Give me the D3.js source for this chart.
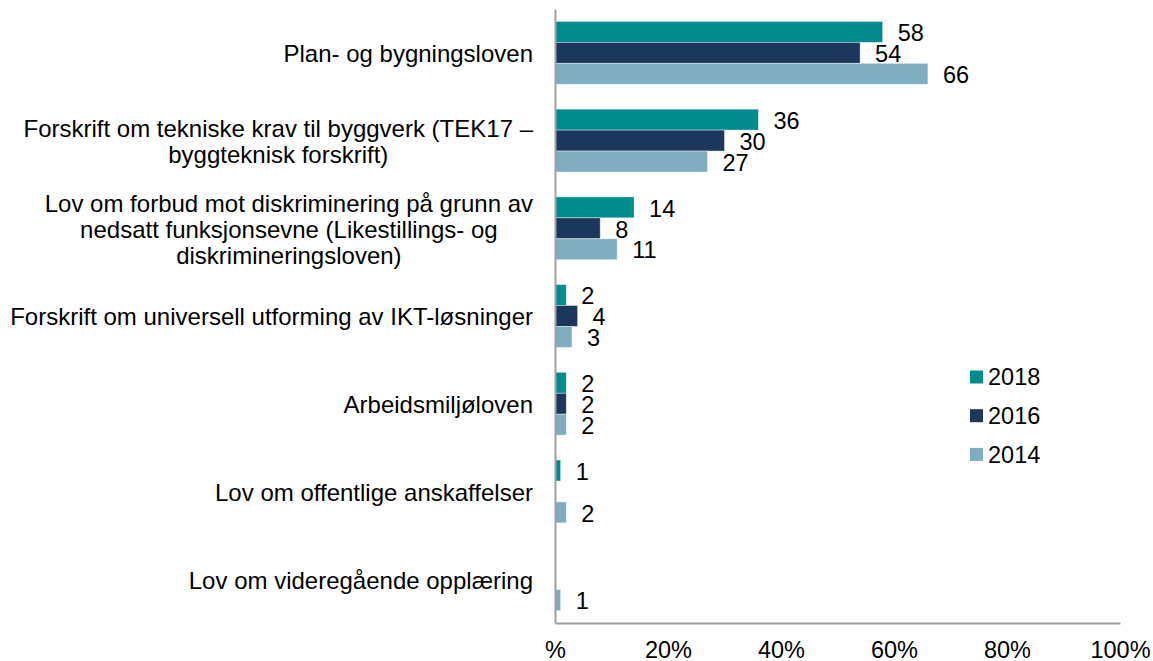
<!DOCTYPE html>
<html>
<head>
<meta charset="utf-8">
<script src="https://cdn.jsdelivr.net/npm/d3@7"></script>
<style>
  html, body { margin: 0; padding: 0; background: #fff; }
  svg { display: block; font-family: "Liberation Sans", Arial, sans-serif; }
</style>
</head>
<body>
<svg id="chart" width="1153" height="661"></svg>
<script>
// ---- data ----
const categories = [
  "Plan- og bygningsloven",
  "Forskrift om tekniske krav til byggverk (TEK17 – byggteknisk forskrift)",
  "Lov om forbud mot diskriminering på grunn av nedsatt funksjonsevne (Likestillings- og diskrimineringsloven)",
  "Forskrift om universell utforming av IKT-løsninger",
  "Arbeidsmiljøloven",
  "Lov om offentlige anskaffelser",
  "Lov om videregående opplæring"
];
const categoryLines = [
  ["Plan- og bygningsloven"],
  ["Forskrift om tekniske krav til byggverk (TEK17 –", "byggteknisk forskrift)"],
  ["Lov om forbud mot diskriminering på grunn av", "nedsatt funksjonsevne (Likestillings- og", "diskrimineringsloven)"],
  ["Forskrift om universell utforming av IKT-løsninger"],
  ["Arbeidsmiljøloven"],
  ["Lov om offentlige anskaffelser"],
  ["Lov om videregående opplæring"]
];
const seriesNames = ["2018", "2016", "2014"];
const values2018 = [58, 36, 14, 2, 2, 1, null];
const values2016 = [54, 30, 8, 4, 2, null, null];
const values2014 = [66, 27, 11, 3, 2, 2, 1];
const tickValues = [0, 20, 40, 60, 80, 100];
const tickLabels = ["%", "20%", "40%", "60%", "80%", "100%"];
const colors = ["#008b8e", "#1c365c", "#7eadc0"];

const seriesValues = [values2018, values2016, values2014];

(function draw() {
  const svg = d3.select("#chart");
  const FS = 23.5;
  const catFS = 24;
  const plotLeft = 555, plotRight = 1120, plotTop = 9, plotBottom = 623;

  const x = d3.scaleLinear().domain([0, 100]).range([plotLeft, plotRight]);
  const y = d3.scaleBand().domain(categories).range([plotTop, plotBottom]).paddingInner(0.284).paddingOuter(0.142);
  const ySub = d3.scaleBand().domain(seriesNames).range([0, y.bandwidth()]);
  const color = d3.scaleOrdinal().domain(seriesNames).range(colors);

  const rows = [];
  categories.forEach((c, i) => {
    seriesNames.forEach((s, j) => {
      const v = seriesValues[j][i];
      if (v != null) rows.push({ cat: c, series: s, value: v });
    });
  });

  // bars
  svg.append("g").selectAll("rect").data(rows).join("rect")
    .attr("x", x(0))
    .attr("y", d => y(d.cat) + ySub(d.series))
    .attr("width", d => x(d.value) - x(0))
    .attr("height", ySub.bandwidth())
    .attr("fill", d => color(d.series))
    .attr("stroke", "#ffffff")
    .attr("stroke-opacity", 0.5)
    .attr("stroke-width", 0.8);

  // value labels
  svg.append("g").selectAll("text").data(rows).join("text")
    .attr("x", d => x(d.value) + 15)
    .attr("y", d => y(d.cat) + ySub(d.series) + ySub.bandwidth() / 2 + 1)
    .attr("dy", "0.35em")
    .attr("font-size", FS)
    .attr("fill", "#000")
    .text(d => d.value);

  // bottom axis
  const xAxis = d3.axisBottom(x)
    .tickValues(tickValues)
    .tickFormat((d, i) => tickLabels[i])
    .tickSizeInner(0)
    .tickSizeOuter(0)
    .tickPadding(18);
  const gx = svg.append("g").attr("transform", `translate(0,${plotBottom})`).call(xAxis);
  gx.select(".domain").attr("stroke", "#a0a0a0").attr("stroke-width", 2);
  gx.selectAll("text").attr("font-size", FS).attr("font-family", "Liberation Sans, Arial, sans-serif").attr("fill", "#000");

  // left axis line
  const yAxis = d3.axisLeft(y).tickValues([]).tickSizeOuter(0);
  const gy = svg.append("g").attr("transform", `translate(${plotLeft},0)`).call(yAxis);
  gy.select(".domain").attr("stroke", "#a0a0a0").attr("stroke-width", 2);

  // category labels (wrapped, centred block, right-aligned)
  const labelRight = 533;
  const lineH = 26;
  const lg = svg.append("g");
  categories.forEach((c, i) => {
    const lines = categoryLines[i];
    const t = lg.append("text").attr("font-size", catFS).attr("fill", "#000").attr("text-anchor", "middle");
    const cy = y(c) + y.bandwidth() / 2;
    lines.forEach((ln, k) => {
      t.append("tspan")
        .attr("y", cy + (k - (lines.length - 1) / 2) * lineH + 1)
        .attr("dy", "0.35em")
        .text(ln);
    });
    let maxW = 0;
    t.selectAll("tspan").each(function () { maxW = Math.max(maxW, this.getComputedTextLength()); });
    t.selectAll("tspan").attr("x", labelRight - maxW / 2);
  });

  // legend
  const legend = svg.append("g");
  seriesNames.forEach((s, i) => {
    const ly = 377 + i * 38.7;
    legend.append("rect").attr("x", 970).attr("y", ly - 6.5).attr("width", 13).attr("height", 13).attr("fill", color(s));
    legend.append("text").attr("x", 988).attr("y", ly).attr("dy", "0.35em").attr("font-size", FS).attr("fill", "#000").text(s);
  });
})();
</script>
</body>
</html>
